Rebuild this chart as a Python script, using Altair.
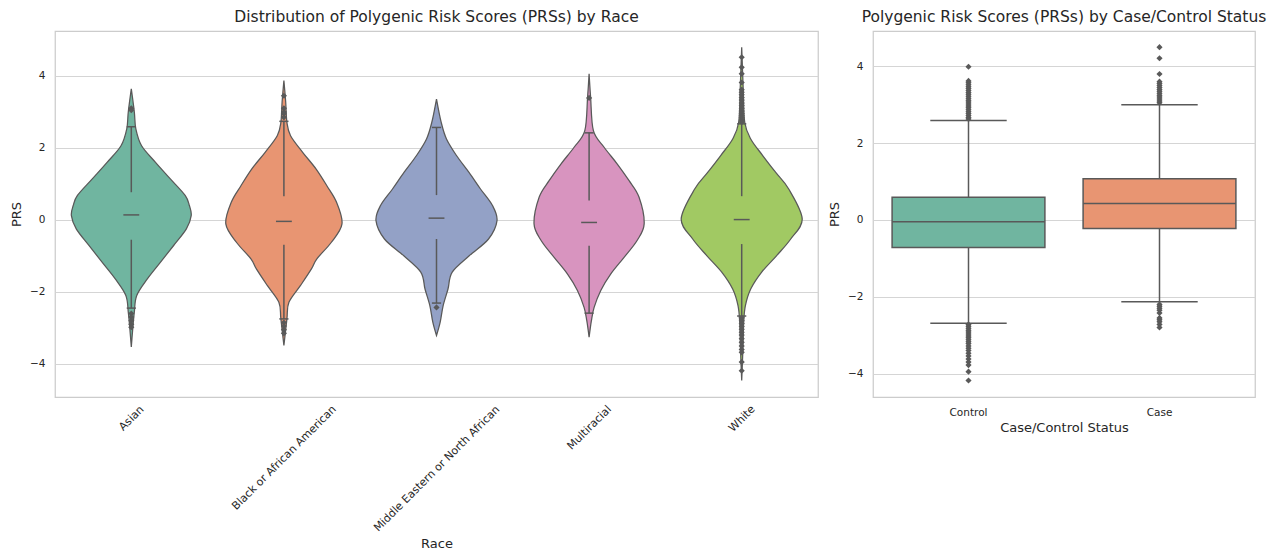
import altair as alt
import pandas as pd

# ---------------- data ----------------
race_names = ["Asian", "Black or African American", "Middle Eastern or North African",
              "Multiracial", "White"]
race_colors = ["#70b5a0", "#e89572", "#93a1c6", "#d894bf", "#a1c963"]

# violin outlines: PRS value and relative density (1 = widest violin)
asian_prs = [3.64, 3.0, 2.53, 2.06, 1.60, 1.14, 0.68, 0.40, 0.12, -0.25, -0.71, -1.18, -1.64, -2.10, -2.56, -3.0, -3.53]
asian_den = [0.0, 0.05, 0.075, 0.17, 0.40, 0.645, 0.89, 0.96, 0.99, 0.91, 0.70, 0.48, 0.265, 0.09, 0.05, 0.025, 0.0]
black_prs = [3.87, 3.27, 2.71, 2.34, 1.88, 1.42, 0.95, 0.49, -0.11, -0.62, -1.08, -1.36, -1.82, -2.29, -2.75, -3.49]
black_den = [0.0, 0.03, 0.05, 0.11, 0.31, 0.53, 0.71, 0.87, 0.96, 0.785, 0.545, 0.455, 0.275, 0.083, 0.05, 0.0]
mena_prs = [3.36, 2.71, 2.25, 1.79, 1.32, 0.86, 0.40, -0.02, -0.53, -0.99, -1.45, -1.92, -2.38, -2.84, -3.21]
mena_den = [0.0, 0.078, 0.165, 0.33, 0.537, 0.727, 0.925, 1.0, 0.86, 0.545, 0.26, 0.19, 0.11, 0.061, 0.0]
multi_prs = [4.06, 3.41, 2.48, 2.02, 1.56, 1.09, 0.63, -0.11, -0.57, -1.04, -1.5, -1.96, -2.43, -2.80, -3.26]
multi_den = [0.0, 0.025, 0.071, 0.248, 0.463, 0.661, 0.826, 0.91, 0.793, 0.578, 0.359, 0.193, 0.083, 0.038, 0.0]
white_prs = [4.80, 3.64, 2.71, 2.25, 1.79, 1.32, 0.86, 0.03, -0.53, -0.99, -1.45, -1.92, -2.38, -2.84, -3.6, -4.46]
white_den = [0.0, 0.025, 0.05, 0.149, 0.347, 0.562, 0.777, 1.0, 0.81, 0.578, 0.33, 0.149, 0.061, 0.033, 0.02, 0.0]

# inner box statistics per race
race_q1 = [-0.55, -0.69, -0.53, -0.72, -0.67]
race_med = [0.14, -0.04, 0.05, -0.07, 0.01]
race_q3 = [0.77, 0.66, 0.69, 0.54, 0.66]
race_lo = [-2.45, -2.75, -2.31, -2.59, -2.67]
race_hi = [2.59, 2.74, 2.57, 2.42, 2.67]

asian_out = [3.10, 3.05, -2.60, -2.70, -2.80, -2.90, -2.98]
black_out = [3.45, 3.10, 3.00, 2.95, 2.85, -2.85, -2.95, -3.05, -3.15]
mena_out = [-2.43]
multi_out = [3.39]
white_out = [4.52, 4.24, 4.06, 3.82, 3.62, 3.55, 3.48, 3.40, 3.33, 3.25, 3.18, 3.10, 3.03,
             2.96, 2.90, 2.84, 2.78, 2.72, -2.72, -2.80, -2.88, -2.96, -3.04, -3.12, -3.20,
             -3.30, -3.40, -3.50, -3.60, -3.68, -3.95, -4.19]

# case / control boxplot
status_names = ["Control", "Case"]
status_colors = ["#70b5a0", "#e89572"]
status_q1 = [-0.72, -0.22]
status_med = [-0.05, 0.43]
status_q3 = [0.59, 1.07]
status_lo = [-2.69, -2.13]
status_hi = [2.59, 3.00]
control_out = [3.99, 3.62, 3.57, 3.52, 3.47, 3.42, 3.37, 3.32, 3.27, 3.22, 3.17, 3.12, 3.07,
               3.02, 2.97, 2.92, 2.87, 2.82, 2.77, 2.72, 2.67, 2.63,
               -2.72, -2.77, -2.82, -2.87, -2.92, -2.97, -3.02, -3.07, -3.12, -3.17, -3.22,
               -3.28, -3.34, -3.40, -3.47, -3.54, -3.62, -3.70, -3.78, -3.95, -4.18]
case_out = [4.50, 4.21, 3.80, 3.60, 3.55, 3.50, 3.45, 3.40, 3.35, 3.30, 3.25, 3.20, 3.15,
            3.10, 3.05, -2.20, -2.25, -2.30, -2.35, -2.42, -2.55, -2.60, -2.65, -2.72, -2.80]

# ---------------- tables ----------------
violin_prs = [asian_prs, black_prs, mena_prs, multi_prs, white_prs]
violin_den = [asian_den, black_den, mena_den, multi_den, white_den]
race_out = [asian_out, black_out, mena_out, multi_out, white_out]

vrows = []
for i, name in enumerate(race_names):
    for p, d in zip(violin_prs[i], violin_den[i]):
        vrows.append({"race": name, "idx": i, "prs": p, "den": d})
violin_df = pd.DataFrame(vrows)

box_df = pd.DataFrame({"race": race_names, "idx": list(range(5)), "q1": race_q1,
                       "med": race_med, "q3": race_q3, "lo": race_lo, "hi": race_hi})
orows = []
for i, name in enumerate(race_names):
    for v in race_out[i]:
        orows.append({"race": name, "idx": i, "prs": v})
out_df = pd.DataFrame(orows)

sbox_df = pd.DataFrame({"status": status_names, "q1": status_q1, "med": status_med,
                        "q3": status_q3, "lo": status_lo, "hi": status_hi})
srows = [{"status": "Control", "prs": v} for v in control_out] + \
        [{"status": "Case", "prs": v} for v in case_out]
sout_df = pd.DataFrame(srows)

# ---------------- style ----------------
EDGE = "#595959"
FONT = "DejaVu Sans"
HALF = 0.3965  # max half-width of a violin (x units)

xs = alt.Scale(domain=[-0.5, 4.5], nice=False, zero=False)
ys_left = alt.Scale(domain=[-4.92, 5.25], nice=False, zero=False)
ys_right = alt.Scale(domain=[-4.61, 4.92], nice=False, zero=False)
race_color = alt.Scale(domain=race_names, range=race_colors)
status_color = alt.Scale(domain=status_names, range=status_colors)

label_arr = "[" + ",".join("'%s'" % n for n in race_names) + "]"
pads = [21, 60.5, 71.5, 30.5, 21.5]
pad_expr = " : ".join("datum.value === %d ? %s" % (i, p) for i, p in enumerate(pads[:-1])) + " : %s" % pads[-1]

x_axis = alt.Axis(values=[0, 1, 2, 3, 4], labelExpr=label_arr + "[datum.value]",
                  labelAngle=-45, labelAlign="center", labelBaseline="middle",
                  labelFontSize=11,
                  labelPadding={"expr": pad_expr}, labelOverlap=False, grid=False,
                  title="Race", titlePadding=4)
y_axis = alt.Axis(values=[-4, -2, 0, 2, 4], title="PRS", labelPadding=10, titlePadding=6)

violins = alt.Chart(violin_df).transform_calculate(
    left="datum.idx - datum.den * %f" % HALF,
    right="datum.idx + datum.den * %f" % HALF,
).mark_area(orient="horizontal", interpolate="cardinal", stroke=EDGE, strokeWidth=1.25,
            fillOpacity=1).encode(
    y=alt.Y("prs:Q", scale=ys_left, axis=y_axis),
    x=alt.X("left:Q", scale=xs, axis=x_axis),
    x2="right:Q",
    color=alt.Color("race:N", scale=race_color, legend=None),
    detail="race:N",
)

w_up = alt.Chart(box_df).mark_rule(color=EDGE, strokeWidth=1.5).encode(
    x=alt.X("idx:Q", scale=xs), y=alt.Y("q3:Q", scale=ys_left), y2="hi:Q")
w_dn = alt.Chart(box_df).mark_rule(color=EDGE, strokeWidth=1.5).encode(
    x=alt.X("idx:Q", scale=xs), y=alt.Y("q1:Q", scale=ys_left), y2="lo:Q")

def hline(field, half):
    return alt.Chart(box_df).transform_calculate(
        a="datum.idx - %f" % half, b="datum.idx + %f" % half
    ).mark_rule(color=EDGE, strokeWidth=1.5).encode(
        x=alt.X("a:Q", scale=xs), x2="b:Q", y=alt.Y(field + ":Q", scale=ys_left))

med_l = hline("med", 0.052)
cap_hi = hline("hi", 0.03)
cap_lo = hline("lo", 0.03)

pts = alt.Chart(out_df).mark_point(shape="diamond", filled=True, color=EDGE, size=38,
                                   opacity=1).encode(
    x=alt.X("idx:Q", scale=xs), y=alt.Y("prs:Q", scale=ys_left))

left = alt.layer(violins, w_up, w_dn, med_l, cap_hi, cap_lo, pts).properties(
    width=763, height=366,
    title=alt.TitleParams("Distribution of Polygenic Risk Scores (PRSs) by Race",
                          anchor="middle", offset=6))

# ---------- right panel ----------
xb = alt.X("status:N", sort=status_names,
           scale=alt.Scale(domain=status_names, paddingInner=0, paddingOuter=0),
           axis=alt.Axis(labelAngle=0, labelPadding=10, grid=False,
                         title="Case/Control Status", titlePadding=4))
yr_axis = alt.Axis(values=[-4, -2, 0, 2, 4], title="PRS", labelPadding=10, titlePadding=6)

boxes = alt.Chart(sbox_df).mark_bar(width={"band": 0.8}, stroke=EDGE, strokeWidth=1.5,
                                    opacity=1).encode(
    x=xb, y=alt.Y("q1:Q", scale=ys_right, axis=yr_axis), y2="q3:Q",
    color=alt.Color("status:N", scale=status_color, legend=None))
sw_up = alt.Chart(sbox_df).mark_rule(color=EDGE, strokeWidth=1.5).encode(
    x=xb, y=alt.Y("q3:Q", scale=ys_right), y2="hi:Q")
sw_dn = alt.Chart(sbox_df).mark_rule(color=EDGE, strokeWidth=1.5).encode(
    x=xb, y=alt.Y("q1:Q", scale=ys_right), y2="lo:Q")

def shline(field, band):
    return alt.Chart(sbox_df).mark_bar(width={"band": band}, stroke=EDGE, strokeWidth=1.5,
                                       fill=EDGE).encode(
        x=xb, y=alt.Y(field + ":Q", scale=ys_right), y2=field + ":Q")

smed = shline("med", 0.8)
scap_hi = shline("hi", 0.4)
scap_lo = shline("lo", 0.4)

spts = alt.Chart(sout_df).mark_point(shape="diamond", filled=True, color=EDGE, size=38,
                                     opacity=1).encode(
    x=xb, y=alt.Y("prs:Q", scale=ys_right))

right = alt.layer(sw_up, sw_dn, boxes, smed, scap_hi, scap_lo, spts).properties(
    width=382, height=366,
    title=alt.TitleParams("Polygenic Risk Scores (PRSs) by Case/Control Status",
                          anchor="middle", offset=6))

chart = alt.hconcat(left, right, spacing=8).properties(
    padding={"left": 1, "top": 0, "right": 0, "bottom": 0}
).configure_view(stroke="#cccccc", strokeWidth=1.25).configure_axis(
    labelFont=FONT, labelFontSize=10.5, labelColor="#262626",
    titleFont=FONT, titleFontSize=13, titleColor="#262626", titleFontWeight="normal",
    grid=True, gridColor="#d5d5d5", gridWidth=1,
    domain=False, ticks=False, tickSize=0,
).configure_title(font=FONT, fontSize=15.5, fontWeight="normal", color="#262626")

chart.save("out.html", embed_options={"renderer": "svg", "actions": False})
